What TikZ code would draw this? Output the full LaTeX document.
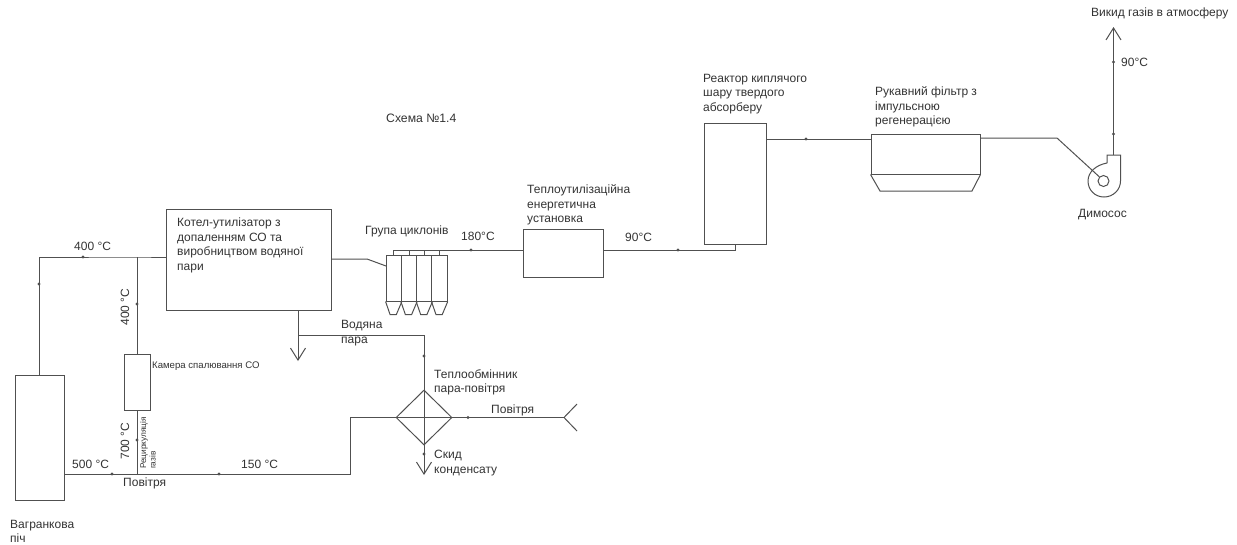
\documentclass[tikz,border=0pt]{standalone}
\usepackage{fontspec}
\setmainfont{Liberation Sans}
\usepackage{xcolor}
\usetikzlibrary{positioning, arrows.meta, shapes.geometric}
\definecolor{linegray}{HTML}{505050}
\definecolor{textgray}{HTML}{333333}
\tikzset{
  unit/.style={draw=linegray, line width=1pt, inner sep=0pt},
  pipe/.style={draw=linegray, line width=1pt},
  openend/.style={pipe, -{Straight Barb[length=12pt, width=15pt, line width=1pt]}},
  lbl/.style={text=textgray, inner sep=0pt, anchor=west, align=left, font=\fontsize{12}{14.5}\selectfont},
  tinylbl/.style={lbl, font=\fontsize{8.3}{9.5}\selectfont},
}
\begin{document}
\begin{tikzpicture}[x=1pt, y=-1pt]
\useasboundingbox (0,0) rectangle (1237,544);
% apparatus
\node[unit, minimum width=49, minimum height=125] (furnace) at (39.5,437.5) {};
\node[unit, minimum width=165, minimum height=101] (boiler) at (248.5,259.5) {};
\node[unit, minimum width=26, minimum height=56] (chamber) at (137,382) {};
\node[unit, shape=diamond, minimum width=56, minimum height=55] (exchanger) at (424,417.5) {};
\node[unit, minimum width=80, minimum height=48] (recovery) at (563,253) {};
\node[unit, minimum width=62, minimum height=121] (reactor) at (735,183.5) {};
\node[unit, minimum width=109, minimum height=40] (filter) at (925.5,154) {};
\draw[pipe] (filter.south west) -- (880,191) -- (972,191) -- (filter.south east);
% cyclones
\foreach \i/\cx in {1/393.7, 2/409, 3/424.3, 4/439.6} {
  \node[unit, minimum width=15.3, minimum height=46] (cyc\i) at (\cx,278) {};
  \draw[pipe] (cyc\i.south west) -- ++(4.5,13) -- ++(6.3,0) -- (cyc\i.south east);
  \draw[pipe] (cyc\i.north) -- ++(0,-5);
}
% fan
\node[unit, circle, minimum size=11] (fanhub) at (1103.5,181) {};
\coordinate (fanout) at (1113.5,155);
\draw[pipe] (1107,163) -- (1107,155) -- (1120.5,155) -- (1120.5,181)
  .. controls (1120.5,190) and (1113,197) .. (1104,197)
  .. controls (1095,197) and (1088,190) .. (1088,181)
  .. controls (1088,172) and (1096,165) .. (1107,163);
% junctions
\coordinate (topjoin) at (137,257);
\coordinate (airjoin) at (137,474);
\coordinate (steamdrop) at (298,335);
\coordinate (steamturn) at (424,335);
\coordinate (bend) at (350,474);
\coordinate (airmouth) at (564,417.5);
\coordinate (fanbend) at (1057,138);
\coordinate (cycin) at (386,266);
\coordinate (cyctap) at (367,259);
\coordinate (header) at (393.7,250);
\coordinate (stackend) at (1113.5,27);
\coordinate (ventend) at (298,361);
\coordinate (drainend) at (424,475);
% connectors
\draw[pipe] (furnace.north) |- (topjoin) -- (topjoin -| boiler.west);
\draw[pipe] (chamber.north) -- (topjoin);
\draw[pipe] (chamber.south) -- (airjoin);
\draw[pipe] (airjoin -| furnace.east) -- (bend) |- (exchanger.west);
\draw[openend] (298,310) -- (ventend);
\draw[pipe] (steamdrop) -- (steamturn) -- (exchanger.north);
\draw[pipe] (exchanger.north) -- (exchanger.south);
\draw[pipe] (exchanger.west) -- (exchanger.east);
\draw[openend] (exchanger.south) -- (drainend);
\draw[pipe] (exchanger.east) -- (airmouth);
\draw[pipe] (577,404) -- (airmouth) -- (577,431);
\draw[pipe] (boiler.east |- cyctap) -- (cyctap) -- (cycin);
\draw[pipe] (header) -- (header -| recovery.west);
\draw[pipe] (header -| recovery.east) -- (header -| reactor.south) -- (reactor.south);
\draw[pipe] (reactor.east |- 0,139) -- (filter.west |- 0,139);
\draw[pipe] (filter.east |- fanbend) -- (fanbend) -- (fanhub.north west);
\draw[openend] (fanout) -- (stackend);
% flow marks
\foreach \p in {(83,257), (39,284), (137,304), (137,440), (112,474), (219,474),
  (424,356), (424,454), (468,417.5), (471,250), (678,250), (806,139), (1113.5,62), (1113.5,134)} {
  \fill[linegray] \p circle (1.6);
}
% labels
\node[lbl, font=\fontsize{12.2}{14}\selectfont] (title) at (386,118) {Схема №1.4};
\node[lbl] (boilertxt) at (177,245.5) {Котел-утилізатор з\\допаленням СО та\\виробництвом водяної\\пари};
\node[lbl] (furnacetxt) at (10,531.5) {Вагранкова\\піч};
\node[lbl] (t400a) at (74,246) {400 °C};
\node[lbl] (t500) at (72,464) {500 °C};
\node[lbl] (t150) at (241,464) {150 °C};
\node[lbl] (airlow) at (123,483) {Повітря};
\node[lbl, rotate=90, anchor=center] (t400b) at (125,307) {400 °C};
\node[lbl, rotate=90, anchor=center] (t700) at (125,441) {700 °C};
\node[tinylbl, rotate=90, anchor=center] (recirc) at (148,443) {Рециркуляція\\газів};
\node[tinylbl, font=\fontsize{9.6}{11}\selectfont] (chambertxt) at (152,366) {Камера спалювання СО};
\node[lbl] (steamtxt) at (341,333) {Водяна\\пара};
\node[lbl] (exchtxt) at (434,382.5) {Теплообмінник\\пара-повітря};
\node[lbl] (airhigh) at (491,410) {Повітря};
\node[lbl] (draintxt) at (434,463) {Скид\\конденсату};
\node[lbl] (cyctxt) at (365,231) {Група циклонів};
\node[lbl] (t180) at (461,236) {180°C};
\node[lbl] (recovtxt) at (527,205) {Теплоутилізаційна\\енергетична\\установка};
\node[lbl] (t90a) at (625,237) {90°C};
\node[lbl] (reactxt) at (703,94) {Реактор киплячого\\шару твердого\\абсорберу};
\node[lbl] (filttxt) at (875,107) {Рукавний фільтр з\\імпульсною\\регенерацією};
\node[lbl] (fantxt) at (1078,215) {Димосос};
\node[lbl] (stacktxt) at (1091,13) {Викид газів в атмосферу};
\node[lbl] (t90b) at (1121,62) {90°C};
\end{tikzpicture}
\end{document}
